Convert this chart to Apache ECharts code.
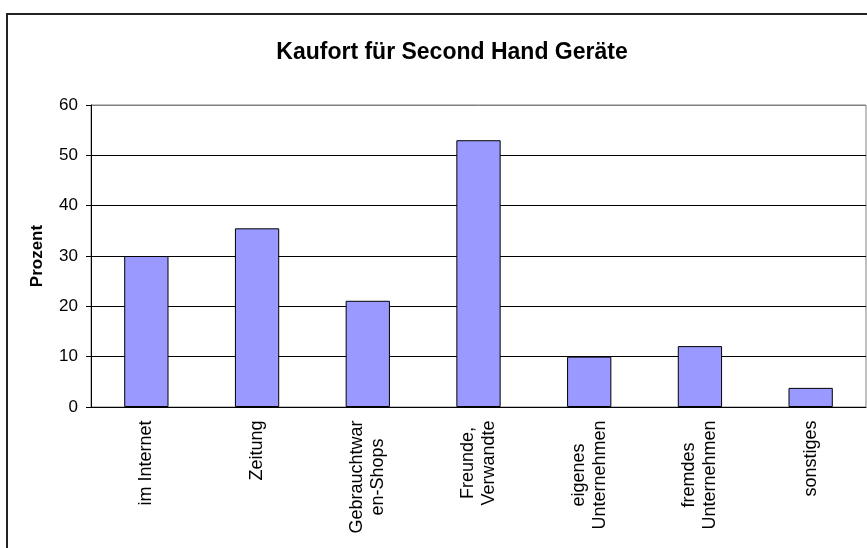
<!DOCTYPE html>
<html>
<head>
<meta charset="utf-8">
<script src="https://cdn.jsdelivr.net/npm/echarts@6/dist/echarts.min.js"></script>
<style>
  html, body { margin: 0; padding: 0; background: #fff; }
  #chart { width: 867px; height: 548px; }
</style>
</head>
<body>
<div id="chart"></div>
<script>
// data
const categories = ['im Internet', 'Zeitung', 'Gebrauchtwar\nen-Shops', 'Freunde,\nVerwandte',
  'eigenes\nUnternehmen', 'fremdes\nUnternehmen', 'sonstiges'];
const values = [30, 35.5, 21.1, 53, 10, 12.1, 3.8];
const yMin = 0, yMax = 60, yStep = 10;

const FONT = '"Liberation Sans", Arial, sans-serif';
const labelSize = 18;

// each label gets its own width so its lines can be centred against each other
const ctx = document.createElement('canvas').getContext('2d');
ctx.font = labelSize + 'px ' + FONT;
const rich = {};
categories.forEach((c, i) => {
  const w = Math.max(...c.split('\n').map(s => ctx.measureText(s).width));
  rich['l' + i] = { width: Math.ceil(w), align: 'center', fontSize: labelSize,
    fontFamily: FONT, color: '#000', lineHeight: 21 };
});

const chart = echarts.init(document.getElementById('chart'));
chart.setOption({
  animation: false,
  backgroundColor: '#fff',
  title: {
    text: 'Kaufort für Second Hand Geräte',
    left: 447, top: 36, textAlign: 'center',
    textStyle: { fontFamily: FONT, fontSize: 23, fontWeight: 'bold', color: '#000' }
  },
  graphic: [{
    type: 'rect', silent: true,
    shape: { x: 7, y: 14, width: 920, height: 600 },
    style: { fill: 'none', stroke: '#222', lineWidth: 2 }
  }],
  grid: {
    left: 91, right: 1, top: 105, bottom: 141,
    show: true, borderColor: '#808080', borderWidth: 1
  },
  xAxis: {
    type: 'category',
    data: categories,
    axisLine: { lineStyle: { color: '#000' } },
    axisTick: { length: 5, lineStyle: { color: '#000' } },
    axisLabel: {
      rotate: 90, margin: 13, interval: 0,
      formatter: (v, i) => v.split('\n').map(s => '{l' + i + '|' + s + '}').join('\n'),
      rich: rich
    }
  },
  yAxis: {
    type: 'value',
    min: yMin, max: yMax, interval: yStep,
    name: 'Prozent', nameLocation: 'middle', nameGap: 45,
    nameTextStyle: { fontFamily: FONT, fontSize: 17, fontWeight: 'bold', color: '#000' },
    axisLine: { show: true, lineStyle: { color: '#000' } },
    axisTick: { show: true, length: 5, lineStyle: { color: '#000' } },
    axisLabel: { margin: 13, fontFamily: FONT, fontSize: 17, color: '#000' },
    splitLine: { lineStyle: { color: ['#000', '#000', '#000', '#000', '#000', '#000', '#808080'], width: 1 } }
  },
  series: [{
    type: 'bar',
    data: values,
    barCategoryGap: '60%',
    itemStyle: { color: '#9999FF', borderColor: '#000', borderWidth: 1 }
  }]
});
</script>
</body>
</html>
